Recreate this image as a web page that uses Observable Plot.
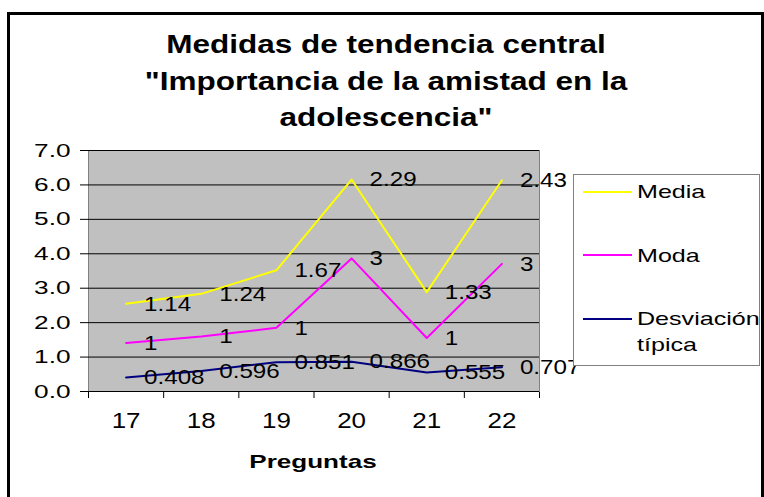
<!DOCTYPE html>
<html>
<head>
<meta charset="utf-8">
<script src="https://cdn.jsdelivr.net/npm/d3@7"></script>
<script src="https://cdn.jsdelivr.net/npm/@observablehq/plot@0.6"></script>
<style>
  html, body { margin: 0; padding: 0; background: #fff; }
  #root { position: relative; width: 764px; height: 497px; overflow: hidden; font-family: "Liberation Sans", Arial, sans-serif; color: #000; }
  .abs { position: absolute; white-space: nowrap; }
  .title { font-weight: bold; font-size: 25px; line-height: 25px; width: 600px; left: 86px; text-align: center; transform: scaleX(1.26); transform-origin: 300px 0; }
  .leg { font-size: 19px; line-height: 19px; transform: scaleX(1.32); transform-origin: 0 0; }
  .legline { position: absolute; height: 2px; width: 49px; left: 583px; }
</style>
</head>
<body>
<div id="root">
  <div class="abs" style="left:7px;top:12px;width:751px;height:500px;border:3px solid #000;"></div>
  <div class="abs title" style="top:32px;">Medidas de tendencia central</div>
  <div class="abs title" style="top:69px;">"Importancia de la amistad en la</div>
  <div class="abs title" style="top:105px;">adolescencia"</div>
  <div id="chart" class="abs" style="left:0;top:0;"></div>
  <div id="legend" class="abs" style="left:573px;top:174px;width:185px;height:190px;border:1px solid #808080;background:#fff;"></div>
  <div class="abs" style="left:213px;width:200px;text-align:center;top:452px;font-weight:bold;font-size:19px;line-height:19px;transform:scaleX(1.37);transform-origin:100px 0;">Preguntas</div>
</div>
<script>
// ---- data ----
const categories = [17, 18, 19, 20, 21, 22];
const media = [1.14, 1.24, 1.67, 2.29, 1.33, 2.43];
const moda = [1, 1, 1, 3, 1, 3];
const desviacion = [0.408, 0.596, 0.851, 0.866, 0.555, 0.707];
const series = ["Media", "Moda", "Desviación típica"];
const colors = ["#FFFF00", "#FF00FF", "#000080"];
const yTicks = [0, 1, 2, 3, 4, 5, 6, 7];

// stacked line chart (Excel style): bottom-up order
const stackOrder = [["Desviación típica", desviacion], ["Moda", moda], ["Media", media]];
const rows = stackOrder.flatMap(([s, vals]) => categories.map((q, i) => ({q, v: vals[i], s})));
const boundaries = categories.map(c => c - 0.5).concat([categories[categories.length - 1] + 0.5]);

const font = '"Liberation Sans", Arial, sans-serif';
const chart = Plot.plot({
  width: 764,
  height: 497,
  marginTop: 150,
  marginLeft: 88,
  marginRight: 225,
  marginBottom: 106,
  style: {fontFamily: font, fontSize: "19px", color: "black", background: "transparent", overflow: "visible"},
  x: {domain: [boundaries[0], boundaries[boundaries.length - 1]], ticks: boundaries, tickFormat: () => "", tickSize: 7, label: null},
  y: {domain: [0, 7], ticks: yTicks, tickFormat: d3.format(".1f"), tickSize: 8, tickPadding: 10, line: true, label: null},
  color: {domain: series, range: colors},
  marks: [
    Plot.frame({fill: "#C0C0C0", stroke: "#808080"}),
    Plot.ruleY(yTicks, {stroke: "black", strokeWidth: 1}),
    Plot.lineY(rows, Plot.stackY2({x: "q", y: "v", z: "s", stroke: "s", strokeWidth: 2})),
    Plot.text(rows, Plot.stackY2({x: "q", y: "v", z: "s", text: d => String(d.v), textAnchor: "start", dx: 18, fontSize: 21, fill: "black"})),
    Plot.text(categories, {x: d => d, text: d => String(d), frameAnchor: "bottom", dy: 36, fontSize: 22, fill: "black"})
  ]
});
document.getElementById("chart").appendChild(chart);

// widen glyphs to match the reference's wide rendering
const factors = {"19px": 1.38, "21px": 1.15, "22px": 1.18};
chart.querySelectorAll("text").forEach(t => {
  const k = factors[getComputedStyle(t).fontSize];
  if (!k) return;
  const L = t.getComputedTextLength();
  if (L > 0) { t.setAttribute("textLength", L * k); t.setAttribute("lengthAdjust", "spacingAndGlyphs"); }
});

// legend
const root = document.getElementById("root");
const legItems = [
  {color: colors[0], lineY: 191, lines: [{text: "Media", top: 182}]},
  {color: colors[1], lineY: 254, lines: [{text: "Moda", top: 246}]},
  {color: colors[2], lineY: 318, lines: [{text: "Desviación", top: 309}, {text: "típica", top: 335}]}
];
legItems.forEach(it => {
  const ln = document.createElement("div");
  ln.className = "legline";
  ln.style.top = it.lineY + "px";
  ln.style.background = it.color;
  root.appendChild(ln);
  it.lines.forEach(l => {
    const t = document.createElement("div");
    t.className = "abs leg";
    t.style.left = "637px";
    t.style.top = l.top + "px";
    t.textContent = l.text;
    root.appendChild(t);
  });
});
</script>
</body>
</html>
